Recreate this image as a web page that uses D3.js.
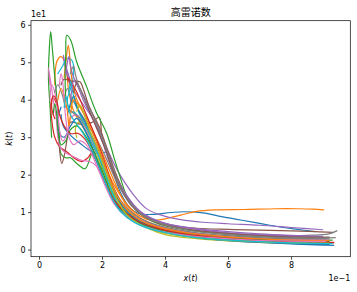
<!DOCTYPE html>
<html>
<head>
<meta charset="utf-8">
<style>
body { margin:0; background:#fff; }
text { font-family: "DejaVu Sans", sans-serif; fill:#000; }
.title { font-family: "Noto Sans CJK SC", "DejaVu Sans", sans-serif; }
</style>
</head>
<body>
<div id="chart"></div>
<script src="https://d3js.org/d3.v7.min.js"></script>
<script>

// one trajectory per run: [x(t), k(t)]
var run00 = [[0.07,36],[0.077,33],[0.10,30.5],[0.13,28.4],[0.16,26.5],[0.19,25.5],[0.215,26],[0.23,22],[0.26,15],[0.29,11],[0.32,9.5],[0.36,9.4],[0.42,9.9],[0.46,10.1],[0.52,9.8],[0.58,8.8],[0.64,7.9],[0.70,7],[0.76,6.1],[0.82,5.4],[0.876,4.8]];
var run01 = [[0.05,44],[0.052,48],[0.058,50.5],[0.07,51.5],[0.082,50],[0.088,47],[0.095,42],[0.11,37],[0.13,34],[0.16,30],[0.20,24],[0.24,17],[0.28,12],[0.32,9],[0.36,7.8],[0.40,8.2],[0.45,9.2],[0.50,10.2],[0.56,10.6],[0.65,10.7],[0.75,10.9],[0.82,10.9],[0.87,10.8],[0.903,10.6]];
var run02 = [[0.04,30],[0.035,38],[0.03,46],[0.033,54],[0.037,58.2],[0.042,54],[0.048,48],[0.055,42],[0.06,36],[0.065,30],[0.07,25.5],[0.085,24.5],[0.10,24.5],[0.12,23],[0.146,21.6],[0.167,25.5],[0.18,27],[0.20,22],[0.23,16],[0.27,10.5],[0.30,8.5],[0.35,6.5],[0.40,5.2],[0.50,4],[0.60,3.3],[0.70,2.9],[0.80,2.6],[0.90,2.5],[0.93,2.5]];
var run03 = [[0.06,38],[0.045,40.5],[0.038,39],[0.04,35],[0.05,30],[0.065,27.5],[0.09,26],[0.11,24.5],[0.135,23.5],[0.155,24.5],[0.167,25.7],[0.18,24],[0.20,20],[0.23,14.5],[0.26,10.5],[0.30,8.2],[0.35,6.3],[0.40,5],[0.50,3.6],[0.60,2.9],[0.70,2.4],[0.80,2.1],[0.90,1.9],[0.935,1.8]];
var run04 = [[0.10,45],[0.085,49],[0.077,51.9],[0.085,48],[0.10,44],[0.13,40],[0.17,35],[0.21,28],[0.25,21],[0.30,14.6],[0.34,11],[0.38,9.4],[0.45,8],[0.52,7.3],[0.60,6.9],[0.70,6.5],[0.80,5.9],[0.90,5.3]];
var run05 = [[0.06,32],[0.065,27],[0.072,23],[0.08,25],[0.09,30],[0.10,34],[0.13,33.5],[0.167,33.9],[0.191,35.3],[0.20,30],[0.23,22],[0.27,15],[0.31,10.5],[0.36,7.8],[0.42,6.4],[0.50,5.7],[0.60,5.4],[0.70,5.2],[0.80,5],[0.88,4.8],[0.93,4.6]];
var run06 = [[0.035,44],[0.03,48.5],[0.035,46],[0.045,40],[0.055,35],[0.06,30],[0.07,27],[0.09,25.5],[0.11,24.8],[0.135,23.8],[0.16,23.5],[0.18,22.5],[0.20,19.5],[0.23,14.5],[0.27,10],[0.31,7.6],[0.36,6],[0.42,4.8],[0.50,3.9],[0.60,3.3],[0.70,2.9],[0.80,2.7],[0.90,2.6]];
var run07 = [[0.08,40],[0.09,43],[0.10,41],[0.12,38],[0.15,34],[0.18,30],[0.21,25],[0.25,17.5],[0.29,12],[0.33,9],[0.38,7],[0.45,5.6],[0.55,4.6],[0.65,4.1],[0.75,3.8],[0.85,3.8],[0.92,4.2],[0.945,5.0]];
var run08 = [[0.12,30],[0.115,32],[0.125,34],[0.14,33],[0.16,30],[0.19,24],[0.22,17],[0.26,11],[0.30,7.9],[0.35,5.5],[0.40,4],[0.50,2.9],[0.60,2.3],[0.70,1.9],[0.80,1.7],[0.90,1.6]];
var run09 = [[0.06,47],[0.075,49],[0.088,51],[0.104,50.6],[0.11,47],[0.10,43],[0.09,40],[0.10,37],[0.115,36.5],[0.14,33],[0.17,28],[0.20,23],[0.23,16],[0.26,10.5],[0.30,7.6],[0.35,6],[0.40,4.8],[0.50,3.6],[0.60,3],[0.70,2.6],[0.80,2.6],[0.92,3.2]];
var run10 = [[0.07,38],[0.06,35],[0.065,31],[0.08,30],[0.10,33],[0.12,35],[0.15,31],[0.18,25],[0.21,18],[0.24,12.5],[0.28,9],[0.33,6.5],[0.40,4.6],[0.50,3.2],[0.60,2.4],[0.70,1.9],[0.80,1.5],[0.90,1.2],[0.935,1.1]];
var run11 = [[0.08,46],[0.085,50],[0.093,54.5],[0.098,51],[0.105,45],[0.12,40],[0.14,37],[0.17,32],[0.20,26],[0.24,18],[0.28,11.5],[0.32,8.5],[0.37,6.6],[0.44,5.2],[0.52,4.2],[0.62,3.5],[0.72,3],[0.82,2.7],[0.91,2.5]];
var run12 = [[0.085,40],[0.083,45],[0.085,52],[0.088,57.2],[0.10,56],[0.12,50],[0.151,43.5],[0.18,37],[0.215,31],[0.24,24],[0.257,19.5],[0.28,14],[0.31,10.5],[0.35,8],[0.40,6.4],[0.50,4.9],[0.60,4],[0.70,3.5],[0.80,3.1],[0.92,2.8]];
var run13 = [[0.10,44],[0.09,46],[0.10,45],[0.12,42],[0.15,36],[0.18,30],[0.21,23],[0.24,16],[0.28,10.5],[0.32,8],[0.38,6],[0.46,4.6],[0.56,3.6],[0.66,2.9],[0.76,2.4],[0.86,2],[0.935,1.9]];
var run14 = [[0.085,47],[0.09,50],[0.095,51.5],[0.10,49],[0.11,46],[0.13,43],[0.16,38],[0.19,32],[0.22,25],[0.26,17],[0.30,12],[0.34,9],[0.40,7],[0.50,5.6],[0.60,4.8],[0.70,4.2],[0.80,3.8],[0.90,3.5]];
var run15 = [[0.07,44],[0.08,45.5],[0.10,45],[0.13,44.8],[0.14,43],[0.16,38],[0.19,33],[0.22,26],[0.25,19],[0.29,12.5],[0.33,9],[0.38,7],[0.46,5.5],[0.56,4.5],[0.66,3.9],[0.76,3.5],[0.86,3.3],[0.92,3.3]];
var run16 = [[0.035,40],[0.04,44],[0.05,42],[0.06,37],[0.065,32],[0.075,29],[0.09,31],[0.10,35],[0.12,36],[0.15,32],[0.18,27],[0.21,21],[0.24,15],[0.28,10.5],[0.32,8],[0.38,6.2],[0.46,4.8],[0.56,3.8],[0.66,3.2],[0.76,2.8],[0.86,2.6],[0.92,2.6]];
var run17 = [[0.05,42],[0.06,44],[0.075,41],[0.085,38],[0.10,37],[0.13,35],[0.16,31],[0.19,26],[0.22,19.5],[0.26,13],[0.30,9.5],[0.35,7.2],[0.42,5.6],[0.50,4.5],[0.60,3.7],[0.70,3.2],[0.80,2.9],[0.91,2.9]];
var run18 = [[0.10,38],[0.11,41],[0.115,40],[0.13,36],[0.16,31],[0.19,26],[0.22,19],[0.25,13.5],[0.29,9.5],[0.34,6.8],[0.40,5.2],[0.50,3.8],[0.60,3],[0.70,2.5],[0.80,2.2],[0.90,2.1]];
var run19 = [[0.095,42],[0.10,45],[0.105,43],[0.115,39],[0.13,36],[0.16,31],[0.19,25],[0.22,18],[0.25,12],[0.28,9],[0.33,6.5],[0.40,4.8],[0.50,3.5],[0.60,2.7],[0.70,2.2],[0.80,1.8],[0.90,1.6],[0.93,1.6]];
var run20 = [[0.09,36],[0.10,39],[0.11,41],[0.12,38],[0.14,35],[0.17,30],[0.20,24],[0.23,17],[0.27,11],[0.31,8],[0.36,6],[0.43,4.5],[0.52,3.3],[0.62,2.5],[0.72,2],[0.82,1.6],[0.92,1.4]];
var run21 = [[0.06,40],[0.07,43],[0.08,41],[0.09,37],[0.095,33],[0.10,36],[0.11,40],[0.13,38],[0.16,33],[0.19,27],[0.22,20],[0.25,14],[0.29,9.8],[0.33,7.5],[0.39,5.8],[0.47,4.5],[0.57,3.6],[0.67,3],[0.77,2.6],[0.87,2.4],[0.92,2.4]];
var run22 = [[0.045,36],[0.05,39],[0.055,37],[0.06,32],[0.07,28],[0.085,29],[0.10,32],[0.12,33],[0.15,30],[0.18,25],[0.21,19],[0.24,13],[0.28,9.2],[0.33,6.8],[0.40,5],[0.50,3.7],[0.60,3],[0.70,2.5],[0.80,2.2],[0.90,2.1],[0.92,2.1]];
var run23 = [[0.05,35],[0.04,38],[0.045,41],[0.055,40],[0.065,36],[0.08,33],[0.10,31],[0.125,31],[0.15,29],[0.18,24],[0.21,18],[0.24,13],[0.28,9.5],[0.32,7.3],[0.38,5.6],[0.46,4.2],[0.56,3.2],[0.66,2.6],[0.76,2.2],[0.86,2],[0.92,2]];
var run24 = [[0.10,40],[0.105,43],[0.11,45],[0.12,44],[0.14,40],[0.17,35],[0.20,29],[0.23,22],[0.27,15.5],[0.31,11],[0.36,8.3],[0.42,6.6],[0.50,5.4],[0.60,4.5],[0.70,3.9],[0.80,3.5],[0.90,3.3]];
var run25 = [[0.11,42],[0.12,44.5],[0.13,43],[0.15,39],[0.18,33],[0.21,27],[0.24,20],[0.28,13.5],[0.32,9.8],[0.37,7.5],[0.44,5.9],[0.53,4.8],[0.63,4.1],[0.73,3.6],[0.83,3.3],[0.92,3.2]];
var run26 = [[0.065,44],[0.07,47],[0.075,45],[0.08,40],[0.085,35],[0.095,30],[0.11,28],[0.13,29],[0.15,28],[0.18,23],[0.21,17],[0.24,12],[0.28,8.6],[0.32,6.6],[0.38,5],[0.46,3.9],[0.56,3.1],[0.66,2.6],[0.76,2.3],[0.86,2.2],[0.91,2.2]];
var run27 = [[0.10,47],[0.11,49],[0.115,47],[0.125,44],[0.14,41],[0.17,36],[0.20,30],[0.23,23],[0.26,16.5],[0.30,11.5],[0.34,8.6],[0.40,6.6],[0.48,5.1],[0.58,4.2],[0.68,3.6],[0.78,3.2],[0.88,3.1],[0.94,3.2]];
var run28 = [[0.12,37],[0.13,38.5],[0.14,37],[0.16,32],[0.19,26],[0.22,19],[0.25,13],[0.28,9.2],[0.32,6.7],[0.37,5],[0.44,3.8],[0.52,3],[0.62,2.4],[0.72,2],[0.82,1.8],[0.92,1.7]];
var run29 = [[0.08,38],[0.085,41],[0.09,39],[0.10,36],[0.115,34],[0.14,31],[0.17,26],[0.20,20],[0.23,14],[0.26,10],[0.30,7.4],[0.35,5.6],[0.42,4.2],[0.50,3.2],[0.60,2.5],[0.70,2.1],[0.80,1.8],[0.92,1.6]];

var runs = [run00, run01, run02, run03, run04, run05, run06, run07, run08, run09,
            run10, run11, run12, run13, run14, run15, run16, run17, run18, run19,
            run20, run21, run22, run23, run24, run25, run26, run27, run28, run29];

var xTicks = [0, 0.2, 0.4, 0.6, 0.8];
var xTickLabels = ["0", "2", "4", "6", "8"];
var yTicks = [0, 10, 20, 30, 40, 50, 60];
var yTickLabels = ["0", "1", "2", "3", "4", "5", "6"];

var W = 357, H = 292;
var box = {left: 31, right: 350.3, top: 20.7, bottom: 256.7};

var svg = d3.select("#chart").append("svg")
    .attr("width", W)
    .attr("height", H);

var xScale = d3.scaleLinear().domain([-0.0254, 0.988]).range([box.left, box.right]);
var yScale = d3.scaleLinear().domain([-1.9, 61.1]).range([box.bottom, box.top]);

var color = d3.scaleOrdinal(d3.schemeCategory10);

var line = d3.line()
    .x(function(d) { return xScale(d[0]); })
    .y(function(d) { return yScale(d[1]); })
    .curve(d3.curveCatmullRom.alpha(0.5));

svg.append("clipPath").attr("id", "clip")
  .append("rect")
    .attr("x", box.left).attr("y", box.top)
    .attr("width", box.right - box.left).attr("height", box.bottom - box.top);

svg.append("g")
    .attr("clip-path", "url(#clip)")
  .selectAll("path")
  .data(runs)
  .enter().append("path")
    .attr("d", line)
    .attr("fill", "none")
    .attr("stroke", function(d, i) { return color(i % 10); })
    .attr("stroke-width", 1.2)
    .attr("stroke-linejoin", "round")
    .attr("stroke-linecap", "square");

// axes
var xAxis = d3.axisBottom(xScale)
    .tickValues(xTicks)
    .tickFormat(function(d, i) { return xTickLabels[i]; })
    .tickSizeInner(3).tickSizeOuter(0).tickPadding(2.5);

var yAxis = d3.axisLeft(yScale)
    .tickValues(yTicks)
    .tickFormat(function(d, i) { return yTickLabels[i]; })
    .tickSizeInner(3).tickSizeOuter(0).tickPadding(2.5);

var gx = svg.append("g")
    .attr("transform", "translate(0," + box.bottom + ")")
    .call(xAxis);
var gy = svg.append("g")
    .attr("transform", "translate(" + box.left + ",0)")
    .call(yAxis);

[gx, gy].forEach(function(g) {
  g.select(".domain").remove();
  g.selectAll(".tick line").attr("stroke", "#000").attr("stroke-width", 0.7);
  g.selectAll(".tick text")
    .attr("font-size", "8px")
    .attr("font-family", "DejaVu Sans")
    .attr("fill", "#000");
});

// frame
svg.append("rect")
    .attr("x", box.left).attr("y", box.top)
    .attr("width", box.right - box.left).attr("height", box.bottom - box.top)
    .attr("fill", "none")
    .attr("stroke", "#000")
    .attr("stroke-width", 0.7);

// offsets
svg.append("text")
    .attr("x", box.left).attr("y", 16.5)
    .attr("font-size", "8px")
    .text("1e1");

svg.append("text")
    .attr("x", box.right).attr("y", 281)
    .attr("text-anchor", "end")
    .attr("font-size", "8px")
    .text("1e\u22121");

// labels
var xl = svg.append("text")
    .attr("x", (box.left + box.right) / 2).attr("y", 281)
    .attr("text-anchor", "middle")
    .attr("font-size", "8px");
xl.append("tspan").attr("font-style", "italic").text("x");
xl.append("tspan").text("(");
xl.append("tspan").attr("font-style", "italic").text("t");
xl.append("tspan").text(")");

var yl = svg.append("text")
    .attr("transform", "translate(12," + ((box.top + box.bottom) / 2) + ") rotate(-90)")
    .attr("text-anchor", "middle")
    .attr("font-size", "8px");
yl.append("tspan").attr("font-style", "italic").text("k");
yl.append("tspan").text("(");
yl.append("tspan").attr("font-style", "italic").text("t");
yl.append("tspan").text(")");

svg.append("text")
    .attr("class", "title")
    .attr("x", (box.left + box.right) / 2).attr("y", 16)
    .attr("text-anchor", "middle")
    .attr("font-size", "10px")
    .text("高雷诺数");

</script>
</body>
</html>
